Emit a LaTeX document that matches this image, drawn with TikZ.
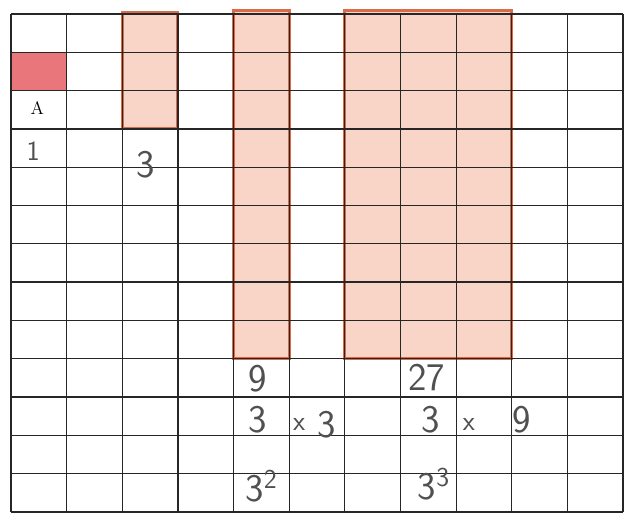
\documentclass[tikz,border=0pt]{standalone}
\definecolor{rosa}{HTML}{E8767A}
\definecolor{pastello}{HTML}{F9D5C7}
\definecolor{bordopastello}{HTML}{D96A4A}
\definecolor{matita}{HTML}{505050}
\begin{document}
\begin{tikzpicture}[
    x=1.4cm, y=0.9637cm,
    colorato/.style={fill=pastello, draw=bordopastello, line width=2.2pt},
    griglia/.style={black!85, line width=0.9pt, step=1},
    cifra/.style={font=\sffamily\fontsize{28}{30}\selectfont, text=matita, inner sep=0pt},
    piccola/.style={font=\sffamily\fontsize{20}{22}\selectfont, text=matita, inner sep=0pt},
    lettera/.style={font=\fontsize{13}{15}\selectfont, text=black, inner sep=0pt}
]
    \useasboundingbox (-0.198,-0.026) rectangle (11.017,13.365);

    % 1. Rettangoli colorati (1, 3, 9, 27 quadretti)
    \fill[rosa] (0,11) rectangle (1,12);
    \draw[colorato] (2,10) rectangle (3,13.05);
    \draw[colorato] (4,4) rectangle (5,13.1);
    \draw[colorato] (6,4) rectangle (9,13.1);

    % 2. Quadrettatura
    \draw[griglia] (0,0) grid (11,13);

    % 3. Scritte in alto
    \node[lettera] (A) at (0.47,10.55) {A};
    \node[piccola] (uno) at (0.4,9.42) {1};
    \node[cifra] (tre) at (2.42,9.06) {3};

    % 4. Conti sotto la colonna da 9
    \node[cifra] (nove) at (4.43,3.47) {9};
    \node[cifra] (treA) at (4.43,2.42) {3};
    \node[piccola] (perA) at (5.18,2.27) {x};
    \node[cifra] (treB) at (5.68,2.27) {3};
    \node[cifra] (quadrato) at (4.5,0.68) {3\textsuperscript{2}};

    % 5. Conti sotto il blocco da 27
    \node[cifra] (ventisette) at (7.47,3.5) {27};
    \node[cifra] (treC) at (7.55,2.42) {3};
    \node[piccola] (perB) at (8.23,2.27) {x};
    \node[cifra] (noveB) at (9.18,2.4) {9};
    \node[cifra] (cubo) at (7.6,0.72) {3\textsuperscript{3}};

\end{tikzpicture}
\end{document}
